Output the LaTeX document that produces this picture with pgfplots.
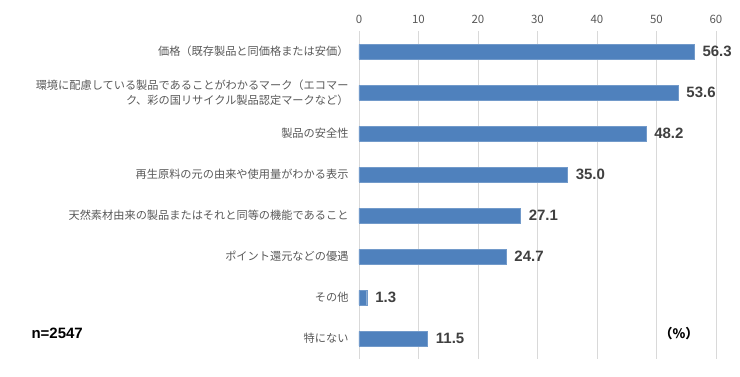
\documentclass[border=0pt]{standalone}
\usepackage{pgfplots}
\pgfplotsset{compat=1.18}
\usepackage{fontspec}
\setmainfont{Liberation Sans}
\newfontfamily\jp{Noto Sans CJK JP}
\definecolor{barblue}{HTML}{4F81BD}
\definecolor{gridgray}{HTML}{D9D9D9}
\definecolor{labgray}{HTML}{595959}
\definecolor{valgray}{HTML}{404040}
\begin{document}
\begin{tikzpicture}[x=1pt,y=1pt]
\path (0,0) rectangle (740,376);
\begin{axis}[
  at={(359pt,17pt)}, anchor=south west,
  scale only axis, width=357pt, height=328pt,
  xmin=0, xmax=60, xtick={0,10,...,60},
  axis x line*=top,
  ymin=-0.5, ymax=7.5, y dir=reverse,
  ytick={0,...,7},
  yticklabels={
    価格（既存製品と同価格または安価）,
    {環境に配慮している製品であることがわかるマーク（エコマー\\ク、彩の国リサイクル製品認定マークなど）},
    製品の安全性,
    再生原料の元の由来や使用量がわかる表示,
    天然素材由来の製品またはそれと同等の機能であること,
    ポイント還元などの優遇,
    その他,
    特にない},
  yticklabel style={font=\jp\fontsize{11.2}{15}\selectfont, color=labgray, align=right, xshift=-7pt},
  xticklabel style={font=\jp\fontsize{11.5}{12}\selectfont, color=labgray, yshift=4pt},
  /pgf/number format/assume math mode=true,
  axis line style={draw=none},
  major tick length=0pt,
  xmajorgrids, grid style={gridgray, line width=0.8pt},
  xbar, bar width=14.5pt,
  nodes near coords,
  nodes near coords style={font=\bfseries\fontsize{15}{16}\selectfont, color=valgray, anchor=west, xshift=5pt,
    /pgf/number format/.cd, fixed, fixed zerofill, precision=1},
  clip=false,
]
\addplot[fill=barblue, draw=barblue!80!white] coordinates {
 (56.3,0) (53.6,1) (48.2,2) (35.0,3) (27.1,4) (24.7,5) (1.3,6) (11.5,7)};
\end{axis}
\node[anchor=west, font=\bfseries\fontsize{15}{16}\selectfont] at (28,43) {n=2547};
\node[font=\jp\bfseries\fontsize{13}{14}\selectfont] at (679,42) {（\%）};
\end{tikzpicture}
\end{document}
